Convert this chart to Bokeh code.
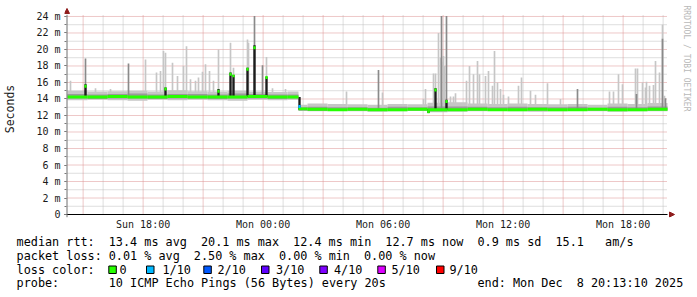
import numpy as np
import pandas as pd
from bokeh.plotting import figure
from bokeh.layouts import column
from bokeh.models import (Range1d, FixedTicker, DatetimeTickFormatter, Label,
                          Arrow, NormalHead, Plot)
from bokeh.core.properties import value
from bokeh.embed import file_html
from bokeh.resources import INLINE

# ------------------------------------------------------------------ data
START = "2025-12-07 14:13:10"
END = "2025-12-08 20:13:10"
STEP_MIN = 5                      # rrd step (minutes)

# smoke band, interval edges in hours after START, values in ms
band_edges = [0, 1, 2, 3, 4, 5, 6, 7, 8, 9, 10, 11, 11.55,
              12, 13, 14, 15, 16, 17, 18, 19, 20, 21, 22, 23, 24, 25, 26, 27, 28, 29, 30]
band_hi = [15.0, 14.9, 14.95, 15.0, 14.9, 15.05, 14.95, 14.9, 15.0, 14.9, 14.85, 14.9,
           13.3, 13.45, 13.4, 13.35, 13.3, 13.4, 13.35, 13.55, 13.6, 13.45, 13.4, 13.45,
           13.4, 13.35, 13.4, 13.3, 13.45, 13.4, 13.5]
band_lo = [13.85, 13.9, 13.85, 13.8, 13.9, 13.85, 13.9, 13.85, 13.8, 13.9, 13.85, 13.9,
           12.55, 12.5, 12.55, 12.5, 12.45, 12.5, 12.55, 12.4, 12.45, 12.5, 12.55, 12.5,
           12.45, 12.5, 12.55, 12.5, 12.45, 12.5, 12.5]
core_lo = [14.05, 14.0, 14.05, 14.05, 14.0, 14.05, 14.05, 14.0, 14.05, 14.05, 14.0, 14.05,
           12.6, 12.55, 12.6, 12.6, 12.55, 12.6, 12.6, 12.5, 12.55, 12.6, 12.6, 12.55,
           12.6, 12.6, 12.55, 12.6, 12.6, 12.55, 12.6]
core_hi = [14.6, 14.55, 14.6, 14.65, 14.55, 14.6, 14.6, 14.55, 14.65, 14.6, 14.55, 14.55,
           13.0, 13.05, 13.0, 13.0, 12.95, 13.05, 13.0, 13.1, 13.1, 13.05, 13.0, 13.05,
           13.0, 13.0, 13.05, 12.95, 13.05, 13.0, 13.1]
median = [14.25, 14.25, 14.3, 14.25, 14.25, 14.3, 14.25, 14.25, 14.25, 14.3, 14.25, 14.25,
          12.8, 12.75, 12.7, 12.75, 12.7, 12.7, 12.75, 12.7, 12.7, 12.75, 12.7, 12.7,
          12.75, 12.7, 12.7, 12.75, 12.7, 12.7, 12.75]

# light smoke spikes (hours after START, top in ms)
light_t = [0.15, 1.4, 2.15, 3.9, 4.45, 4.65, 4.8, 4.9, 5.25, 5.5, 5.8, 5.95, 6.15, 6.4,
           6.55, 6.75, 6.9, 7.1, 7.3, 7.55, 8.15, 8.3, 9.0, 9.05, 9.95, 10.25, 10.9,
           13.95, 15.75, 17.8, 17.9, 18.3, 18.4, 18.55, 18.65, 18.7, 18.8, 18.85, 19.15,
           19.3, 19.4, 19.95, 20.1, 20.3, 20.5, 20.6, 20.9, 21.05, 21.25, 21.35, 21.5,
           21.65, 21.8, 22.05, 22.55, 22.7, 23.15, 23.4, 24.0, 24.65, 27.1, 27.3, 27.55,
           27.75, 28.4, 28.5, 28.75, 28.9, 28.95, 29.1, 29.3, 29.4, 29.6, 29.75, 29.85]
light_top = [16.2, 15.3, 15.2, 18.8, 17.2, 17.4, 19.8, 19.6, 18.4, 16.8, 18.0, 20.4, 16.4,
             16.2, 16.6, 17.3, 18.2, 17.4, 16.2, 20.0, 20.8, 17.8, 21.2, 20.8, 19.1, 15.3,
             15.2,
             14.9, 14.8, 14.0, 15.2, 17.1, 17.1, 22.0, 19.0, 18.5, 19.2, 18.0, 14.3, 14.3,
             14.7, 16.2, 18.0, 17.0, 18.6, 17.0, 16.8, 17.4, 15.6, 19.8, 16.0, 15.2, 14.5,
             14.3, 15.6, 16.6, 15.0, 14.5, 15.9, 14.0, 14.9, 14.9, 17.0, 15.8, 17.7, 17.7,
             16.0, 15.4, 16.1, 15.6, 15.7, 18.6, 17.2, 23.0, 14.4]

# medium-grey smoke spikes
mid_t = [0.9, 3.05, 9.35, 9.75, 15.55, 18.7, 18.95, 25.5, 28.45, 29.75, 29.9]
mid_top = [18.9, 18.3, 24.05, 18.1, 17.5, 24.05, 24.05, 15.2, 14.6, 21.3, 14.1]

# dark smoke (raised median) with the median value and its loss level
dark_t = [0.9, 4.9, 7.55, 8.15, 8.3, 9.0, 9.35, 9.95, 11.6, 18.05, 18.4, 18.95]
dark_lo = [14.25, 14.25, 14.25, 14.25, 14.25, 14.25, 14.25, 14.25, 12.7, 12.3, 12.65, 12.65]
dark_hi = [15.8, 15.4, 15.2, 17.2, 16.9, 17.8, 20.5, 16.7, 14.25, 12.8, 15.3, 13.9]
dark_med = [15.55, 15.2, 14.95, 17.0, 16.8, 17.6, 20.2, 16.6, 13.1, 12.45, 15.1, 13.7]
dark_loss = [0, 0, 0, 0, 0, 0, 0, 0, 1, 0, 0, 0]

y_ticks = [0, 2, 4, 6, 8, 10, 12, 14, 16, 18, 20, 22, 24]
y_tick_labels = ["0", "2 m", "4 m", "6 m", "8 m", "10 m", "12 m", "14 m", "16 m",
                 "18 m", "20 m", "22 m", "24 m"]

LOSS_LABELS = ["0", "1/10", "2/10", "3/10", "4/10", "5/10", "9/10"]
LOSS_COLORS = ["#26ff00", "#00b8ff", "#0059ff", "#5e00ff", "#7e00ff", "#dd00ff", "#ff0000"]

rtt = {"avg": 13.4, "max": 20.1, "min": 12.4, "now": 12.7, "sd": 0.9, "amps": 15.1}
loss = {"avg": 0.01, "max": 2.50, "min": 0.00, "now": 0.00}
probe_text = "10 ICMP Echo Pings (56 Bytes) every 20s"

assert len(light_t) == len(light_top)
assert len(band_hi) == len(band_lo) == len(median) == len(core_lo) == len(core_hi) == len(band_edges) - 1

# ------------------------------------------------------------------ helpers
FONT = "DejaVu Sans Mono"
W, H_MAIN, H_LEG = 697, 232, 65
PX_H = 20.0          # pixels per hour
PX_MS = 8.29         # pixels per millisecond of rtt
HALF = 0.18
GRID_TOP = 24.15
STEP_MS = STEP_MIN * 60_000
LIGHT, CORE, MID, DARK = "#c6c6c6", "#9a9a9a", "#8a8a8a", "#1c1c1c"
MINOR_GRID, MAJOR_GRID = "#bdbdbd", "#dc9090"
ARROW = "#8e1c1c"

start_ms = pd.Timestamp(START).timestamp() * 1000.0
end_ms = pd.Timestamp(END).timestamp() * 1000.0


def to_ms(hours):
    return start_ms + np.asarray(hours, dtype=float) * 3_600_000.0


def stamps(first, freq):
    return [t.timestamp() * 1000.0 for t in pd.date_range(first, END, freq=freq)]


edges = np.asarray(band_edges, dtype=float)


def base_at(hours, arr):
    idx = np.clip(np.searchsorted(edges, np.asarray(hours, float), side="right") - 1,
                  0, len(arr) - 1)
    return np.asarray(arr, dtype=float)[idx]


# frame: x 64..697 px, y 0..218 px; data origin at (67, 215)
LEFT, BOTTOM = 64, 14
x_lo = float(to_ms(-3 / PX_H))
x_hi = float(to_ms((W - LEFT - 3) / PX_H))
y_lo = -3 / PX_MS
y_hi = (H_MAIN - BOTTOM - 3) / PX_MS

# ------------------------------------------------------------------ main plot
p = figure(width=W, height=H_MAIN, x_axis_type="datetime",
           x_range=Range1d(x_lo, x_hi), y_range=Range1d(y_lo, y_hi),
           output_backend="svg", toolbar_location=None,
           min_border_left=LEFT, min_border_right=0, min_border_top=0,
           min_border_bottom=BOTTOM)
if "frame_align" in Plot.properties():
    p.frame_align = False
p.outline_line_color = None
p.background_fill_color = "white"
p.border_fill_color = "white"
p.xgrid.visible = False
p.ygrid.visible = False

# grid (dotted, drawn only over the graph area)
hour_x = stamps("2025-12-07 15:00", "1h")
major_x = stamps("2025-12-07 15:00", "3h")
minor_x = [t for t in hour_x if t not in major_x]
minor_y = [v for v in range(1, 25) if v not in y_ticks]
major_y = y_ticks[1:]
p.segment(x0=minor_x, x1=minor_x, y0=0, y1=GRID_TOP, line_color=MINOR_GRID,
          line_dash="1 1", line_width=1)
p.segment(x0=start_ms, x1=end_ms, y0=minor_y, y1=minor_y, line_color=MINOR_GRID,
          line_dash="1 1", line_width=1)
p.segment(x0=major_x, x1=major_x, y0=0, y1=GRID_TOP, line_color=MAJOR_GRID,
          line_dash="1 1", line_width=1)
p.segment(x0=start_ms, x1=end_ms, y0=major_y, y1=major_y, line_color=MAJOR_GRID,
          line_dash="1 1", line_width=1)

# smoke
p.quad(left=to_ms(band_edges[:-1]), right=to_ms(band_edges[1:]),
       bottom=band_lo, top=band_hi, fill_color=LIGHT, line_color=None)
p.vbar(x=to_ms(light_t), width=STEP_MS, bottom=base_at(light_t, median), top=light_top,
       fill_color=LIGHT, line_color=None)
p.quad(left=to_ms(band_edges[:-1]), right=to_ms(band_edges[1:]),
       bottom=core_lo, top=core_hi, fill_color=CORE, line_color=None)
p.vbar(x=to_ms(mid_t), width=STEP_MS, bottom=base_at(mid_t, median), top=mid_top,
       fill_color=MID, line_color=None)
p.vbar(x=to_ms(dark_t), width=STEP_MS * 1.4, bottom=dark_lo, top=dark_hi,
       fill_color=DARK, line_color=None)
# median (loss coloured)
med = np.asarray(median)
p.quad(left=to_ms(band_edges[:-1]), right=to_ms(band_edges[1:]),
       bottom=med - HALF, top=med + HALF, fill_color=LOSS_COLORS[0], line_color=None)
dmed = np.asarray(dark_med)
p.vbar(x=to_ms(dark_t), width=STEP_MS * 1.4, bottom=dmed - HALF, top=dmed + HALF,
       fill_color=[LOSS_COLORS[i] for i in dark_loss], line_color=None)

# axis lines + arrows
p.segment(x0=[float(to_ms(-0.2))], x1=[end_ms], y0=[0], y1=[0], line_color="black",
          line_width=1)
p.segment(x0=[float(to_ms(-0.025))], x1=[float(to_ms(-0.025))], y0=[-0.35], y1=[24.2],
          line_color="#6e6e6e", line_width=1)
p.add_layout(Arrow(end=NormalHead(size=5, fill_color=ARROW, line_color=ARROW, line_width=1),
                   x_start=float(to_ms(-0.025)), y_start=24.2,
                   x_end=float(to_ms(-0.025)), y_end=24.97, line_alpha=0))
p.add_layout(Arrow(end=NormalHead(size=5, fill_color=ARROW, line_color=ARROW, line_width=1),
                   x_start=end_ms, y_start=0, x_end=float(to_ms(30.35)), y_end=0,
                   line_alpha=0))

# axes (ticks + labels)
xa = p.xaxis[0]
xa.ticker = FixedTicker(ticks=stamps("2025-12-07 18:00", "6h"))
fmt = "%a %H:%M"
xa.formatter = DatetimeTickFormatter(microseconds=fmt, milliseconds=fmt, seconds=fmt,
                                     minsec=fmt, minutes=fmt, hourmin=fmt, hours=fmt,
                                     days=fmt, months=fmt, years=fmt, boundary_scaling=False)
xa.axis_line_color = None
xa.major_tick_out = 0
xa.major_tick_in = 0
xa.minor_tick_out = 0
xa.minor_tick_in = 0
xa.major_label_standoff = 1
xa.major_label_text_font = FONT
xa.major_label_text_font_size = "10px"
xa.major_label_text_color = "#1a1a1a"

ya = p.yaxis[0]
ya.ticker = FixedTicker(ticks=y_ticks, minor_ticks=list(range(0, 25)))
ya.major_label_overrides = dict(zip(y_ticks, y_tick_labels))
ya.axis_line_color = None
ya.major_tick_out = 0
ya.major_tick_in = 2
ya.minor_tick_out = 0
ya.minor_tick_in = 2
ya.major_tick_line_color = "#7a7a7a"
ya.minor_tick_line_color = "#7a7a7a"
ya.major_label_standoff = 4
ya.major_label_text_font = FONT
ya.major_label_text_font_size = "10px"
ya.major_label_text_color = "#1a1a1a"
ya.axis_label = "Seconds"
ya.axis_label_text_font = FONT
ya.axis_label_text_font_size = "11.5px"
ya.axis_label_text_font_style = "normal"
ya.axis_label_text_color = "#1a1a1a"
ya.axis_label_standoff = 16

p.add_layout(Label(x=686 - LEFT, y=H_MAIN - BOTTOM - 59, x_units="screen", y_units="screen",
                   text="RRDTOOL / TOBI OETIKER", angle=-np.pi / 2,
                   text_align="center", text_baseline="middle",
                   text_font=FONT, text_font_size="8px", text_color="#b8b8b8"))

# ------------------------------------------------------------------ legend area
lg = figure(width=W, height=H_LEG, x_range=Range1d(0, W), y_range=Range1d(H_LEG, 0),
            x_axis_location=None, y_axis_location=None, output_backend="svg",
            toolbar_location=None, min_border=0, min_border_left=0, min_border_right=0,
            min_border_top=0, min_border_bottom=0)
if "frame_align" in Plot.properties():
    lg.frame_align = False
lg.grid.visible = False
lg.outline_line_color = None
lg.background_fill_color = "white"
lg.border_fill_color = "white"

X0, CW = 16.1, 7.09
ROW_Y = [9, 23, 37, 50.5]
tokens = [
    (0, 0, "median rtt:"),
    (0, 13, f"{rtt['avg']:.1f} ms avg"),
    (0, 26, f"{rtt['max']:.1f} ms max"),
    (0, 39, f"{rtt['min']:.1f} ms min"),
    (0, 52, f"{rtt['now']:.1f} ms now"),
    (0, 65, f"{rtt['sd']:.1f} ms sd"),
    (0, 76, f"{rtt['amps']:.1f}"),
    (0, 83, "am/s"),
    (1, 0, "packet loss:"),
    (1, 13, f"{loss['avg']:.2f} % avg"),
    (1, 25, f"{loss['max']:.2f} % max"),
    (1, 37, f"{loss['min']:.2f} % min"),
    (1, 49, f"{loss['now']:.2f} % now"),
    (2, 0, "loss color:"),
    (3, 0, "probe:"),
    (3, 13, probe_text),
    (3, 65, "end: Mon Dec"),
    (3, 79, "8 20:13:10 2025"),
]
lg.text(x=[X0 + c * CW for r, c, t in tokens], y=[ROW_Y[r] for r, c, t in tokens],
        text=[t for r, c, t in tokens], text_font=value(FONT), text_font_size="11.8px",
        text_baseline="middle", text_align="left", text_color="black")

sq_x = np.array([108.3, 146.0, 203.3, 261.0, 319.3, 377.3, 436.0])
lbl_x = [119.0, 162.0, 217.0, 275.5, 333.5, 391.0, 449.0]
lg.quad(left=sq_x, right=sq_x + 7.5, top=[33.5] * 7, bottom=[41] * 7,
        fill_color=LOSS_COLORS, line_color="black", line_width=1)
lg.text(x=lbl_x, y=[ROW_Y[2]] * 7, text=LOSS_LABELS, text_font=value(FONT),
        text_font_size="11.8px", text_baseline="middle", text_align="left",
        text_color="black")

layout = column(p, lg, spacing=0)
open("out.html", "w").write(file_html(layout, INLINE, title="smokeping"))
